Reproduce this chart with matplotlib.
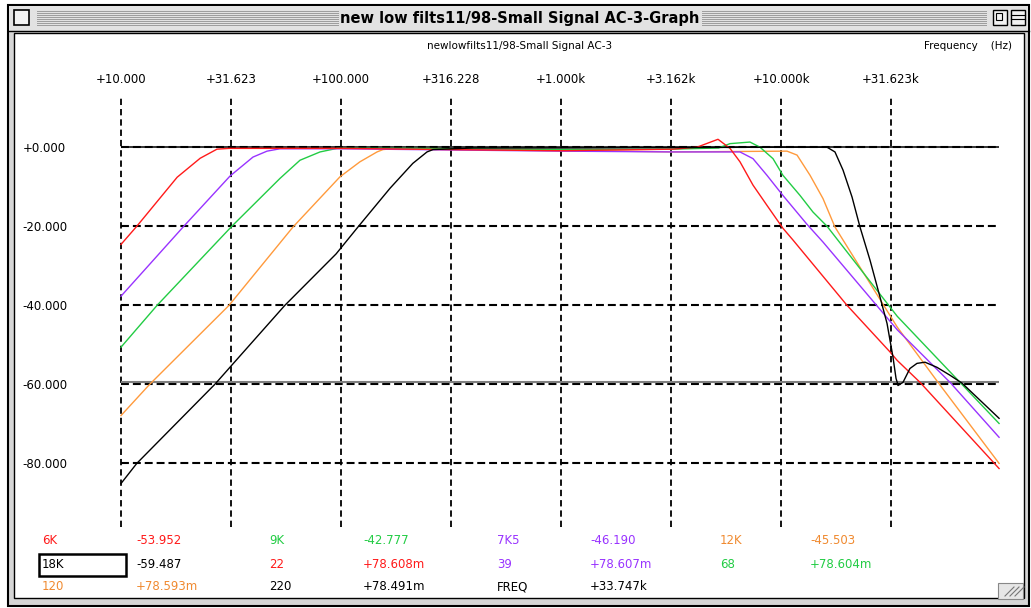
import matplotlib
matplotlib.use("Agg")
import matplotlib.pyplot as plt
from matplotlib.patches import Rectangle
from matplotlib.ticker import NullLocator

W, H = 1031, 608

window_title = "new low filts11/98-Small Signal AC-3-Graph"
sub_title = "newlowfilts11/98-Small Signal AC-3"
axis_title = "Frequency    (Hz)"

# top axis (Hz) and left axis (dB)
x_ticks = [10, 31.623, 100, 316.228, 1000, 3162.28, 10000, 31623]
x_tick_labels = ["+10.000", "+31.623", "+100.000", "+316.228", "+1.000k", "+3.162k", "+10.000k", "+31.623k"]
y_ticks = [0, -20, -40, -60, -80]
y_tick_labels = ["+0.000", "-20.000", "-40.000", "-60.000", "-80.000"]

RED, PURPLE, GREEN, ORANGE, BLACK = "#ff1a1a", "#9933ff", "#22cc44", "#ff9a3c", "#000000"

# traces: frequency (Hz), level (dB)
red_f = [10, 11.8, 18.0, 22.9, 27.3, 31.0, 100, 300, 1000, 3228, 4150, 5172, 5864, 6510, 7460, 8630,
         10200, 11340, 19950, 31290, 33747, 42850, 98000]
red_db = [-24.6, -20.0, -7.6, -2.8, -0.5, -0.3, -0.3, -0.6, -0.9, -0.5, 0.0, 2.0, -0.3, -3.7, -9.6, -14.7,
          -20.5, -23.5, -40.0, -51.8, -53.952, -59.5, -81.3]

purple_f = [10, 19.3, 31.3, 39.8, 46.1, 52.8, 100, 1000, 3228, 6510, 7460, 8630, 10200, 13120, 15520,
            33747, 58640, 98000]
purple_db = [-37.7, -20.0, -7.3, -2.5, -1.0, -0.4, -0.4, -1.0, -1.2, -1.2, -2.9, -7.1, -12.2, -19.5, -24.0,
             -46.19, -59.5, -73.4]

green_f = [10, 14.6, 31.9, 52.8, 65.1, 80.3, 95.9, 200, 1000, 3228, 5200, 5864, 7227, 8025, 9196, 10200,
           12200, 13970, 16190, 33747, 65120, 98000]
green_db = [-50.6, -40.0, -20.0, -7.9, -3.3, -1.2, -0.3, -0.3, -0.6, -0.5, -0.2, 0.9, 1.3, 0.0, -2.9, -7.1,
            -12.2, -16.4, -20.0, -42.777, -59.5, -69.9]

orange_f = [10, 13.5, 31.0, 60.5, 98.9, 121.9, 145.8, 155.2, 170, 1000, 3228, 10650, 11830, 13550, 15520,
            17590, 33747, 51720, 98000]
orange_db = [-67.9, -60.0, -40.0, -20.2, -7.5, -3.7, -1.2, -0.6, -0.4, -0.8, -1.2, -1.0, -2.0, -7.1, -13.0,
             -20.2, -45.503, -59.5, -80.0]

black_f = [10, 11.8, 26.7, 55.6, 95, 119.4, 167, 212, 246, 262, 400, 1000, 10000, 16190, 17590, 19140,
           21030, 22860, 25390, 28180, 30340, 32280, 33330, 33747, 34020, 35850, 38550, 41500, 45130,
           51170, 58640, 66480, 77800, 98000]
black_db = [-85.1, -80.0, -60.0, -40.0, -27.0, -20.2, -10.4, -4.1, -1.2, -0.6, -0.2, -0.2, 0.0, 0.0, -1.2,
            -5.8, -12.6, -20.2, -28.6, -37.9, -44.6, -53.1, -58.5, -59.487, -60.3, -59.5, -56.0, -54.7,
            -54.4, -55.7, -57.7, -59.7, -63.3, -68.6]

cursor_db = -59.487
trace_end = 98000

# readout block under the graph
legend_names = [["6K", "9K", "7K5", "12K"],
                ["18K", "22", "39", "68"],
                ["120", "220", "FREQ"]]
legend_values = [["-53.952", "-42.777", "-46.190", "-45.503"],
                 ["-59.487", "+78.608m", "+78.607m", "+78.604m"],
                 ["+78.593m", "+78.491m", "+33.747k"]]
legend_colors = [[RED, GREEN, PURPLE, "#f08a30"],
                 [BLACK, RED, PURPLE, GREEN],
                 ["#f08a30", BLACK, BLACK]]
name_cols = [42, 269, 497, 720]
value_cols = [136, 363, 590, 810]
row_ys = [541, 564, 587]

FONT = "DejaVu Sans"

fig = plt.figure(figsize=(W / 100, H / 100), dpi=100)
fig.patch.set_facecolor("white")

# ---- window chrome, drawn in pixel coords ----
bg = fig.add_axes([0, 0, 1, 1])
bg.set_xlim(0, W)
bg.set_ylim(H, 0)
bg.axis("off")

bg.add_patch(Rectangle((8, 5), 1021, 601, facecolor="#d6d6d6", edgecolor="black", lw=1.5))
bg.add_patch(Rectangle((9, 6), 1019, 25, facecolor="#e2e2e2", edgecolor="none"))
bg.plot([8, 1029], [31, 31], color="black", lw=1.0)
bg.add_patch(Rectangle((14, 33), 1010, 565, facecolor="white", edgecolor="black", lw=1.0))

# title bar pinstripes
for yy in range(11, 27, 2):
    bg.plot([37, 338], [yy, yy], color="#9c9c9c", lw=0.7)
    bg.plot([702, 986], [yy, yy], color="#9c9c9c", lw=0.7)
bg.add_patch(Rectangle((14, 10), 15, 15, facecolor="#f2f2f2", edgecolor="black", lw=1.2))
bg.add_patch(Rectangle((993, 10), 14, 15, facecolor="#f2f2f2", edgecolor="black", lw=1.0))
bg.add_patch(Rectangle((996, 13), 6, 7, facecolor="none", edgecolor="black", lw=0.8))
bg.add_patch(Rectangle((1011, 10), 14, 15, facecolor="#f2f2f2", edgecolor="black", lw=1.0))
bg.plot([1011, 1025], [15, 15], color="black", lw=0.8)
bg.plot([1011, 1025], [19, 19], color="black", lw=0.8)
bg.text(520, 18, window_title, ha="center", va="center", fontsize=10.5, fontweight="bold",
        family=FONT, color="black")

# resize box
bg.add_patch(Rectangle((998, 583), 25, 16, facecolor="#e6e6e6", edgecolor="#888888", lw=0.8))
for k in range(3):
    bg.plot([1005 + 5 * k, 1014 + 5 * k], [596, 587], color="#777777", lw=0.8)

bg.text(520, 46, sub_title, ha="center", va="center", fontsize=7.5, family=FONT)
bg.text(1012, 46, axis_title, ha="right", va="center", fontsize=7.5, family=FONT)

for r, (names, vals, cols) in enumerate(zip(legend_names, legend_values, legend_colors)):
    for c, (nm, vl, col) in enumerate(zip(names, vals, cols)):
        bg.text(name_cols[c], row_ys[r], nm, ha="left", va="center", fontsize=8.5, color=col, family=FONT)
        bg.text(value_cols[c], row_ys[r], vl, ha="left", va="center", fontsize=8.5, color=col, family=FONT)
bg.add_patch(Rectangle((39, 554), 87, 22, facecolor="none", edgecolor="black", lw=1.8))

# ---- graph ----
ax = fig.add_axes([121 / W, 1 - 527 / H, 880 / W, 430 / H])
ax.patch.set_alpha(0)
ax.set_xscale("log")
ax.set_xlim(10, 1e5)
ax.set_ylim(-96.1, 12.7)
for s in ax.spines.values():
    s.set_visible(False)
ax.xaxis.set_minor_locator(NullLocator())

for xv in x_ticks:
    ax.axvline(xv, color="black", lw=1.3, ls=(0, (3.5, 2.2)), zorder=1, clip_on=False)
ax.hlines(y_ticks, 10, 95000, color="black", lw=1.5, ls=(0, (3.8, 1.9)), zorder=1)

ax.hlines(0, 10, trace_end, color="black", lw=1.1, zorder=2)
ax.hlines(cursor_db, 10, trace_end, color="#808080", lw=1.5, zorder=2)

traces = [(orange_f, orange_db, ORANGE), (green_f, green_db, GREEN), (purple_f, purple_db, PURPLE),
          (red_f, red_db, RED), (black_f, black_db, BLACK)]
for f, db, col in traces:
    ax.plot(f, db, color=col, lw=1.0, zorder=3, clip_on=False)

ax.set_xticks(x_ticks, x_tick_labels)
ax.tick_params(axis="x", top=True, bottom=False, labeltop=True, labelbottom=False, length=0, pad=8,
               labelsize=8.5)
ax.set_yticks(y_ticks, y_tick_labels)
ax.tick_params(axis="y", length=0, pad=71, labelsize=8.5)
for lbl in ax.get_yticklabels():
    lbl.set_horizontalalignment("left")
for lbl in ax.get_xticklabels() + ax.get_yticklabels():
    lbl.set_family(FONT)

fig.savefig("out.png", dpi=100)
